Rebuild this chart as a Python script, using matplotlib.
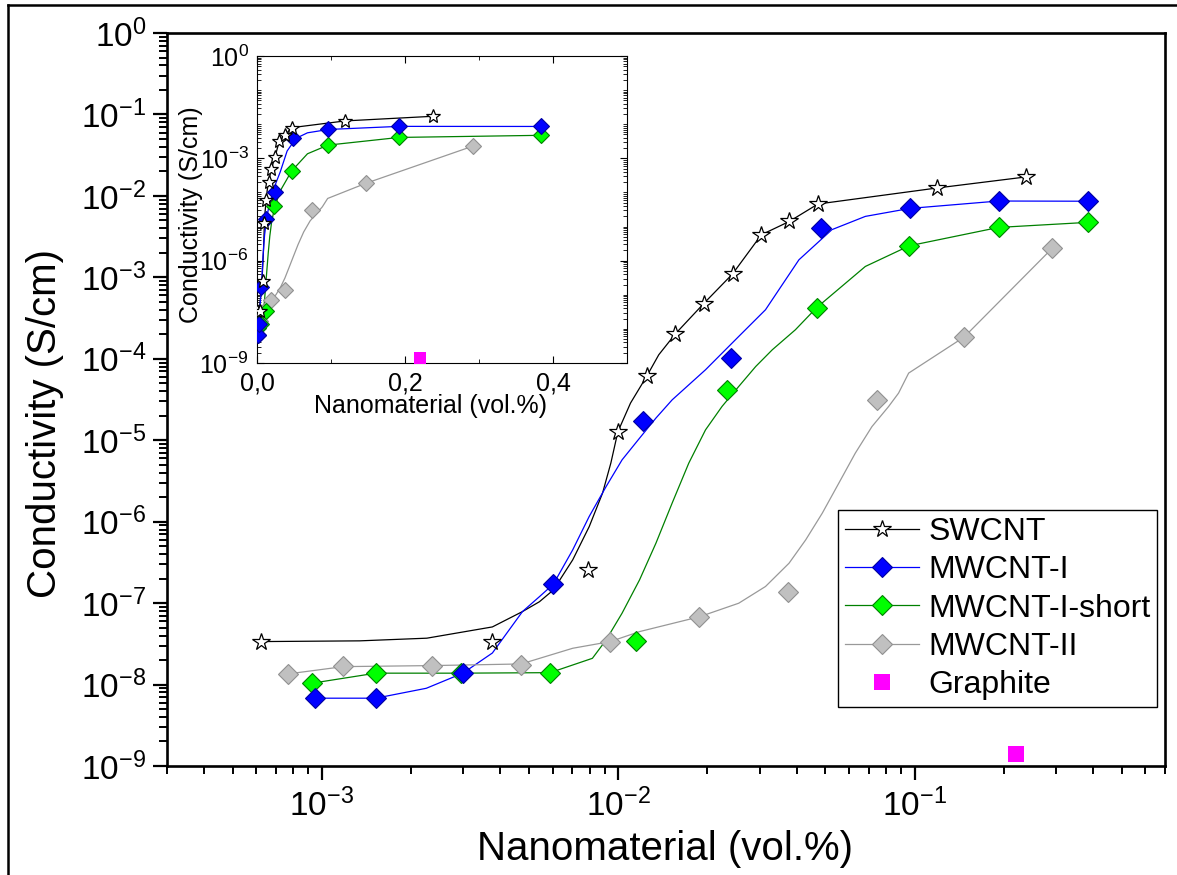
import numpy as np
import matplotlib
matplotlib.use("Agg")
import matplotlib.pyplot as plt
from matplotlib.lines import Line2D
from matplotlib.ticker import LogLocator, NullFormatter, FixedLocator, MultipleLocator

plt.rcParams['font.family'] = ['Liberation Sans', 'DejaVu Sans']
plt.rcParams['mathtext.fontset'] = 'custom'
plt.rcParams['mathtext.rm'] = 'Liberation Sans'
plt.rcParams['mathtext.it'] = 'Liberation Sans:italic'
plt.rcParams['mathtext.bf'] = 'Liberation Sans:bold'
plt.rcParams['axes.unicode_minus'] = False

# measured points (vol.% , S/cm)
swcnt_x = [6.23e-4, 3.76e-3, 7.93e-3, 9.97e-3, 1.25e-2, 1.56e-2, 1.94e-2, 2.43e-2, 3.04e-2, 3.78e-2, 4.72e-2, 0.119, 0.238]
swcnt_y = [3.37e-8, 3.37e-8, 2.56e-7, 1.27e-5, 6.18e-5, 2.03e-4, 4.74e-4, 1.10e-3, 3.33e-3, 4.86e-3, 7.95e-3, 1.25e-2, 1.71e-2]

mw1_x = [9.5e-4, 1.52e-3, 2.99e-3, 6.04e-3, 1.21e-2, 2.41e-2, 4.83e-2, 9.64e-2, 0.192, 0.384]
mw1_y = [6.8e-9, 6.8e-9, 1.38e-8, 1.71e-7, 1.70e-5, 1.01e-4, 3.99e-3, 7.02e-3, 8.65e-3, 8.6e-3]

mw1s_x = [9.27e-4, 1.52e-3, 2.95e-3, 5.89e-3, 1.15e-2, 2.33e-2, 4.67e-2, 9.6e-2, 0.192, 0.384]
mw1s_y = [1.04e-8, 1.38e-8, 1.38e-8, 1.38e-8, 3.4e-8, 4.12e-5, 4.2e-4, 2.44e-3, 4.10e-3, 4.73e-3]

mw2_x = [7.67e-4, 1.18e-3, 2.36e-3, 4.70e-3, 9.4e-3, 1.88e-2, 3.74e-2, 7.46e-2, 0.147, 0.292]
mw2_y = [1.35e-8, 1.71e-8, 1.71e-8, 1.75e-8, 3.37e-8, 6.8e-8, 1.36e-7, 3.08e-5, 1.85e-4, 2.29e-3]

graphite_x = [0.22]
graphite_y = [1.4e-9]

# fitted curves
swcnt_fit_x = [6.23e-4, 1.34e-3, 2.26e-3, 3.76e-3, 4.75e-3, 5.42e-3, 6.04e-3, 7.02e-3, 7.98e-3, 8.85e-3, 9.44e-3,
               9.97e-3, 1.10e-2, 1.25e-2, 1.37e-2, 1.56e-2, 1.94e-2, 2.43e-2, 3.04e-2, 3.78e-2, 4.72e-2, 0.119, 0.238]
swcnt_fit_y = [3.37e-8, 3.44e-8, 3.71e-8, 5.1e-8, 7.87e-8, 1.04e-7, 1.45e-7, 3.40e-7, 8.7e-7, 2.24e-6, 5.24e-6,
               1.27e-5, 2.86e-5, 6.18e-5, 1.12e-4, 2.03e-4, 4.74e-4, 1.10e-3, 3.33e-3, 4.86e-3, 7.95e-3, 1.25e-2, 1.71e-2]

mw1_fit_x = [9.5e-4, 1.52e-3, 2.25e-3, 2.99e-3, 3.76e-3, 4.75e-3, 5.42e-3, 6.04e-3, 7.02e-3, 7.98e-3, 9.10e-3, 1.03e-2,
             1.18e-2, 1.34e-2, 1.52e-2, 1.97e-2, 2.55e-2, 3.14e-2, 4.07e-2, 5.26e-2, 6.82e-2, 9.64e-2, 0.192, 0.384]
mw1_fit_y = [6.8e-9, 6.8e-9, 9.0e-9, 1.38e-8, 2.44e-8, 7.87e-8, 1.20e-7, 1.71e-7, 4.51e-7, 1.16e-6, 2.70e-6, 5.74e-6,
             1.06e-5, 1.87e-5, 3.13e-5, 7.33e-5, 1.88e-4, 4.0e-4, 1.64e-3, 3.85e-3, 5.6e-3, 7.02e-3, 8.65e-3, 8.6e-3]

mw1s_fit_x = [9.27e-4, 1.52e-3, 2.95e-3, 5.89e-3, 8.18e-3, 9.10e-3, 1.03e-2, 1.18e-2, 1.34e-2, 1.52e-2, 1.73e-2,
              1.97e-2, 2.24e-2, 2.55e-2, 2.91e-2, 3.31e-2, 3.96e-2, 4.67e-2, 6.82e-2, 9.6e-2, 0.192, 0.384]
mw1s_fit_y = [1.04e-8, 1.38e-8, 1.38e-8, 1.40e-8, 2.10e-8, 3.53e-8, 7.52e-8, 1.93e-7, 5.44e-7, 1.69e-6, 5.24e-6,
              1.34e-5, 2.60e-5, 4.57e-5, 8.04e-5, 1.29e-4, 2.27e-4, 4.24e-4, 1.36e-3, 2.44e-3, 4.10e-3, 4.73e-3]

mw2_fit_x = [7.67e-4, 1.18e-3, 2.36e-3, 4.70e-3, 7.02e-3, 9.4e-3, 1.18e-2, 1.88e-2, 2.55e-2, 3.14e-2, 3.77e-2,
             4.29e-2, 4.88e-2, 5.55e-2, 6.31e-2, 7.18e-2, 8.17e-2, 8.83e-2, 9.55e-2, 0.147, 0.292]
mw2_fit_y = [1.35e-8, 1.66e-8, 1.71e-8, 1.79e-8, 2.79e-8, 3.37e-8, 4.47e-8, 6.8e-8, 9.97e-8, 1.60e-7, 3.09e-7,
             5.97e-7, 1.27e-6, 2.97e-6, 6.95e-6, 1.47e-5, 2.59e-5, 3.79e-5, 6.67e-5, 1.85e-4, 2.29e-3]

labels = ['SWCNT', 'MWCNT-I', 'MWCNT-I-short', 'MWCNT-II', 'Graphite']

W, H = 1177, 875
fig = plt.figure(figsize=(W / 100, H / 100), dpi=100)

# outer frame (only left and top edges are inside the picture)
fig.add_artist(Line2D([8 / W, 8 / W], [0, 1 - 5 / H], transform=fig.transFigure, color='k', lw=1.8))
fig.add_artist(Line2D([8 / W, 1], [1 - 5 / H, 1 - 5 / H], transform=fig.transFigure, color='k', lw=1.8))

ax = fig.add_axes([167 / W, 1 - 766 / H, (1165 - 167) / W, (766 - 33) / H])


def draw_series(a, ms_scale):
    a.plot(swcnt_fit_x, swcnt_fit_y, color='black', lw=0.9, zorder=2)
    a.plot(mw1_fit_x, mw1_fit_y, color='#0000ff', lw=0.9, zorder=2)
    a.plot(mw1s_fit_x, mw1s_fit_y, color='#008000', lw=0.9, zorder=2)
    a.plot(mw2_fit_x, mw2_fit_y, color='#999999', lw=0.9, zorder=2)
    a.plot(mw2_x, mw2_y, ls='none', marker='D', ms=10 * ms_scale, mfc='#c0c0c0', mec='#909090', mew=0.8, zorder=3)
    a.plot(mw1s_x, mw1s_y, ls='none', marker='D', ms=10 * ms_scale, mfc='#00ff00', mec='#008000', mew=0.8, zorder=3)
    a.plot(mw1_x, mw1_y, ls='none', marker='D', ms=10 * ms_scale, mfc='#0000ff', mec='#0000a0', mew=0.8, zorder=3)
    a.plot(swcnt_x, swcnt_y, ls='none', marker='*', ms=13 * ms_scale, mfc='white', mec='black', mew=0.9, zorder=4)
    a.plot(graphite_x, graphite_y, ls='none', marker='s', ms=11 * ms_scale, mfc='#ff00ff', mec='#ff00ff', mew=0, zorder=4)


draw_series(ax, 1.0)
ax.set_xscale('log')
ax.set_yscale('log')
ax.set_xlim(3e-4, 0.7)
ax.set_ylim(1e-9, 1)
ax.xaxis.set_major_locator(FixedLocator([1e-3, 1e-2, 1e-1]))
ax.xaxis.set_minor_locator(LogLocator(base=10, subs=np.arange(2, 10), numticks=20))
ax.xaxis.set_minor_formatter(NullFormatter())
ax.yaxis.set_major_locator(LogLocator(base=10, numticks=20))
ax.yaxis.set_minor_locator(LogLocator(base=10, subs=np.arange(2, 10), numticks=20))
ax.yaxis.set_minor_formatter(NullFormatter())
for s in ax.spines.values():
    s.set_linewidth(1.9)
ax.tick_params(which='major', direction='out', length=10, width=1.6, labelsize=24)
ax.tick_params(which='minor', direction='out', length=6, width=1.4)
ax.tick_params(axis='x', which='major', pad=6)
ax.tick_params(axis='y', which='major', pad=5)

fig.text(45 / W, 1 - 423 / H, 'Conductivity (S/cm)', rotation=90, ha='center', va='center', fontsize=29)
fig.text(665 / W, 1 - 860 / H, 'Nanomaterial (vol.%)', ha='center', va='baseline', fontsize=29)

handles = [
    Line2D([], [], color='black', lw=0.9, marker='*', ms=13, mfc='white', mec='black', mew=0.9),
    Line2D([], [], color='#0000ff', lw=0.9, marker='D', ms=10, mfc='#0000ff', mec='#0000a0', mew=0.8),
    Line2D([], [], color='#008000', lw=0.9, marker='D', ms=10, mfc='#00ff00', mec='#008000', mew=0.8),
    Line2D([], [], color='#999999', lw=0.9, marker='D', ms=10, mfc='#c0c0c0', mec='#909090', mew=0.8),
    Line2D([], [], ls='none', marker='s', ms=11, mfc='#ff00ff', mec='#ff00ff', mew=0),
]
leg = ax.legend(handles, labels, loc='upper left', bbox_to_anchor=(838 / W, 1 - 510 / H),
                bbox_transform=fig.transFigure, borderaxespad=0, fontsize=23, frameon=True,
                fancybox=False, framealpha=1, edgecolor='black', handlelength=2.3,
                handletextpad=0.3, labelspacing=0.26, borderpad=0.22)
leg.get_frame().set_linewidth(1.0)

# inset, linear x axis
ins = fig.add_axes([257 / W, 1 - 363 / H, (627 - 257) / W, (363 - 56) / H])
ins.set_facecolor('white')
draw_series(ins, 0.8)
ins.set_yscale('log')
ins.set_xlim(0, 0.5)
ins.set_ylim(1e-9, 1)
ins.set_xticks([0.0, 0.2, 0.4])
ins.set_xticklabels(['0,0', '0,2', '0,4'])
ins.xaxis.set_minor_locator(MultipleLocator(0.1))
ins.set_yticks([1e0, 1e-3, 1e-6, 1e-9])
ins.yaxis.set_minor_locator(LogLocator(base=10, subs=np.arange(1, 10), numticks=30))
ins.yaxis.set_minor_formatter(NullFormatter())
for s in ins.spines.values():
    s.set_linewidth(0.8)
ins.tick_params(which='major', direction='in', length=5, width=0.8, labelsize=18,
                top=True, right=True)
ins.tick_params(which='minor', direction='in', length=3, width=0.6, top=True, right=True)
ins.tick_params(axis='y', which='major', pad=6)
ins.tick_params(axis='x', which='major', pad=6)
fig.text(191 / W, 1 - 215 / H, 'Conductivity (S/cm)', rotation=90, ha='center', va='center', fontsize=18)
fig.text(430 / W, 1 - 413 / H, 'Nanomaterial (vol.%)', ha='center', va='baseline', fontsize=18)

fig.savefig('out.png', dpi=100)
